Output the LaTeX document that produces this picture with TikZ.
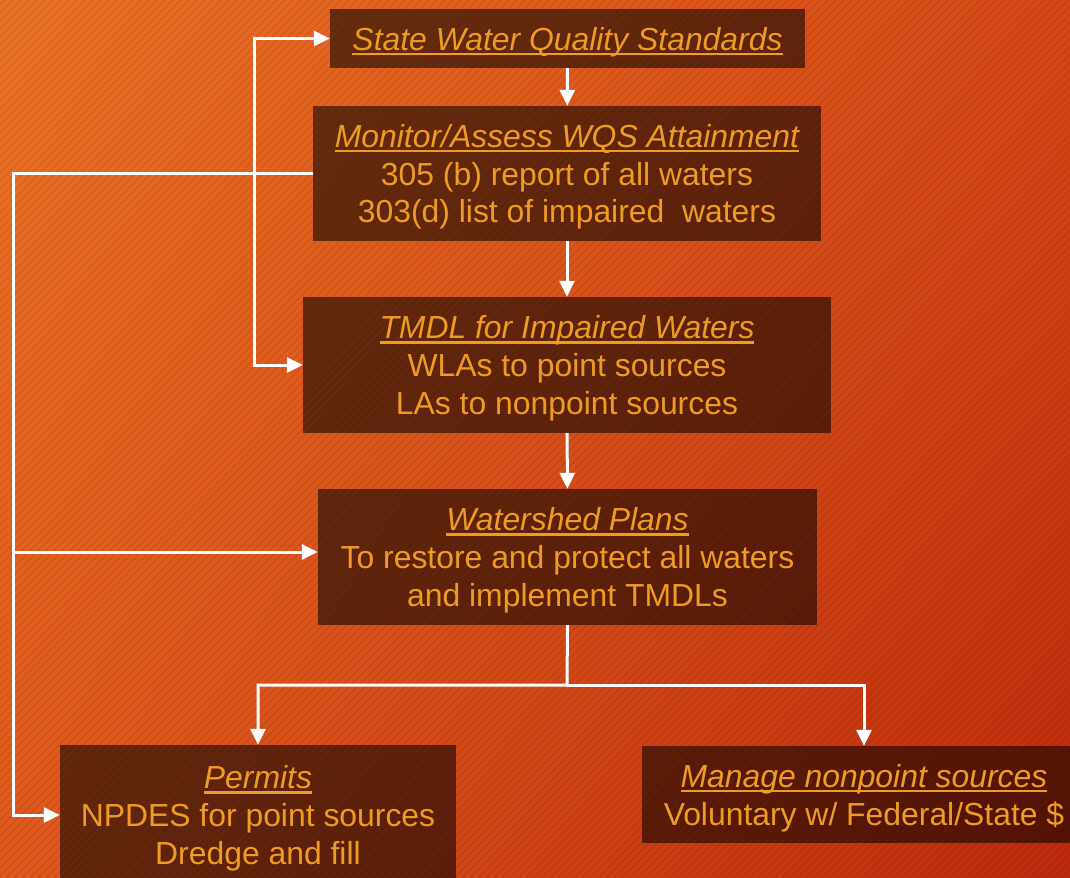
\documentclass[tikz,border=0pt]{standalone}
\usepackage{fontspec}
\setmainfont{Liberation Sans}
\usepackage{tikz}
\usetikzlibrary{arrows.meta,patterns.meta,shadings}
\definecolor{wqsgold}{RGB}{238,156,36}
\definecolor{bgtl}{RGB}{233,114,38}
\definecolor{bgtr}{RGB}{214,72,22}
\definecolor{bgbl}{RGB}{224,88,28}
\definecolor{bgbr}{RGB}{190,42,12}
\newcommand{\boxtitle}[1]{\rule{0pt}{30pt}\textit{\setbox0\hbox{#1}\rlap{\smash{\rule[-5pt]{\wd0}{2.6pt}}}\box0}}

\begin{document}
\begin{tikzpicture}[
    x=1bp, y=-1bp,
    stage/.style={fill=black, fill opacity=0.55, text opacity=1, text=wqsgold,
                  inner sep=0pt, align=center, font=\fontsize{32}{38}\selectfont},
    arr/.style={-{Triangle[length=16bp,width=15bp]}, draw=white, line width=3bp},
    arrs/.style={{Triangle[length=16bp,width=15bp]}-{Triangle[length=16bp,width=15bp]}, draw=white, line width=3bp}
]
    % background
    \useasboundingbox (0,0) rectangle (1070,878);
    \shade[upper left=bgtl, upper right=bgtr, lower left=bgbl, lower right=bgbr] (0,0) rectangle (1070,878);
    \fill[pattern={Lines[angle=45,distance=6bp,line width=2bp]}, pattern color=black, fill opacity=0.07] (0,0) rectangle (1070,878);

    \node[stage, minimum width=475bp, minimum height=59bp]  (wqs)    at (567.5,38.5) {\boxtitle{State Water Quality Standards}};
    \node[stage, minimum width=508bp, minimum height=135bp] (mon)    at (567,173.5)  {\boxtitle{Monitor/Assess WQS Attainment}\\305 (b) report of all waters\\303(d) list of impaired\ \ waters};
    \node[stage, minimum width=528bp, minimum height=136bp] (tmdl)   at (567,365)    {\boxtitle{TMDL for Impaired Waters}\\WLAs to point sources\\LAs to nonpoint sources};
    \node[stage, minimum width=499bp, minimum height=136bp] (shed)   at (567.5,557)  {\boxtitle{Watershed Plans}\\To restore and protect all waters\\and implement TMDLs};
    \node[stage, minimum width=396bp, minimum height=140bp] (permit) at (258,815)    {\boxtitle{Permits}\\NPDES for point sources\\Dredge and fill};
    \node[stage, minimum width=444bp, minimum height=97bp]  (nps)    at (864,794.5)  {\boxtitle{Manage nonpoint sources}\\Voluntary w/ Federal/State \$};

    \coordinate (split) at (567,685);
    \coordinate (loop)  at (13,552);

    \draw[arr] (wqs) -- (mon);
    \draw[arr] (mon) -- (tmdl);
    \draw[arr] (tmdl) -- (shed);
    \draw[arr] (shed.south) -- (split) -| (permit.north);
    \draw[arr] (split) -| (nps.north);

    % feedback loops
    \draw[arrs] (wqs.west) -- ++(-75,0) |- (tmdl.west);
    \draw[arr] (mon.west) -- (13,173.5) |- (permit.west);
    \draw[arr] (loop) -- (loop -| shed.west);
\end{tikzpicture}
\end{document}
